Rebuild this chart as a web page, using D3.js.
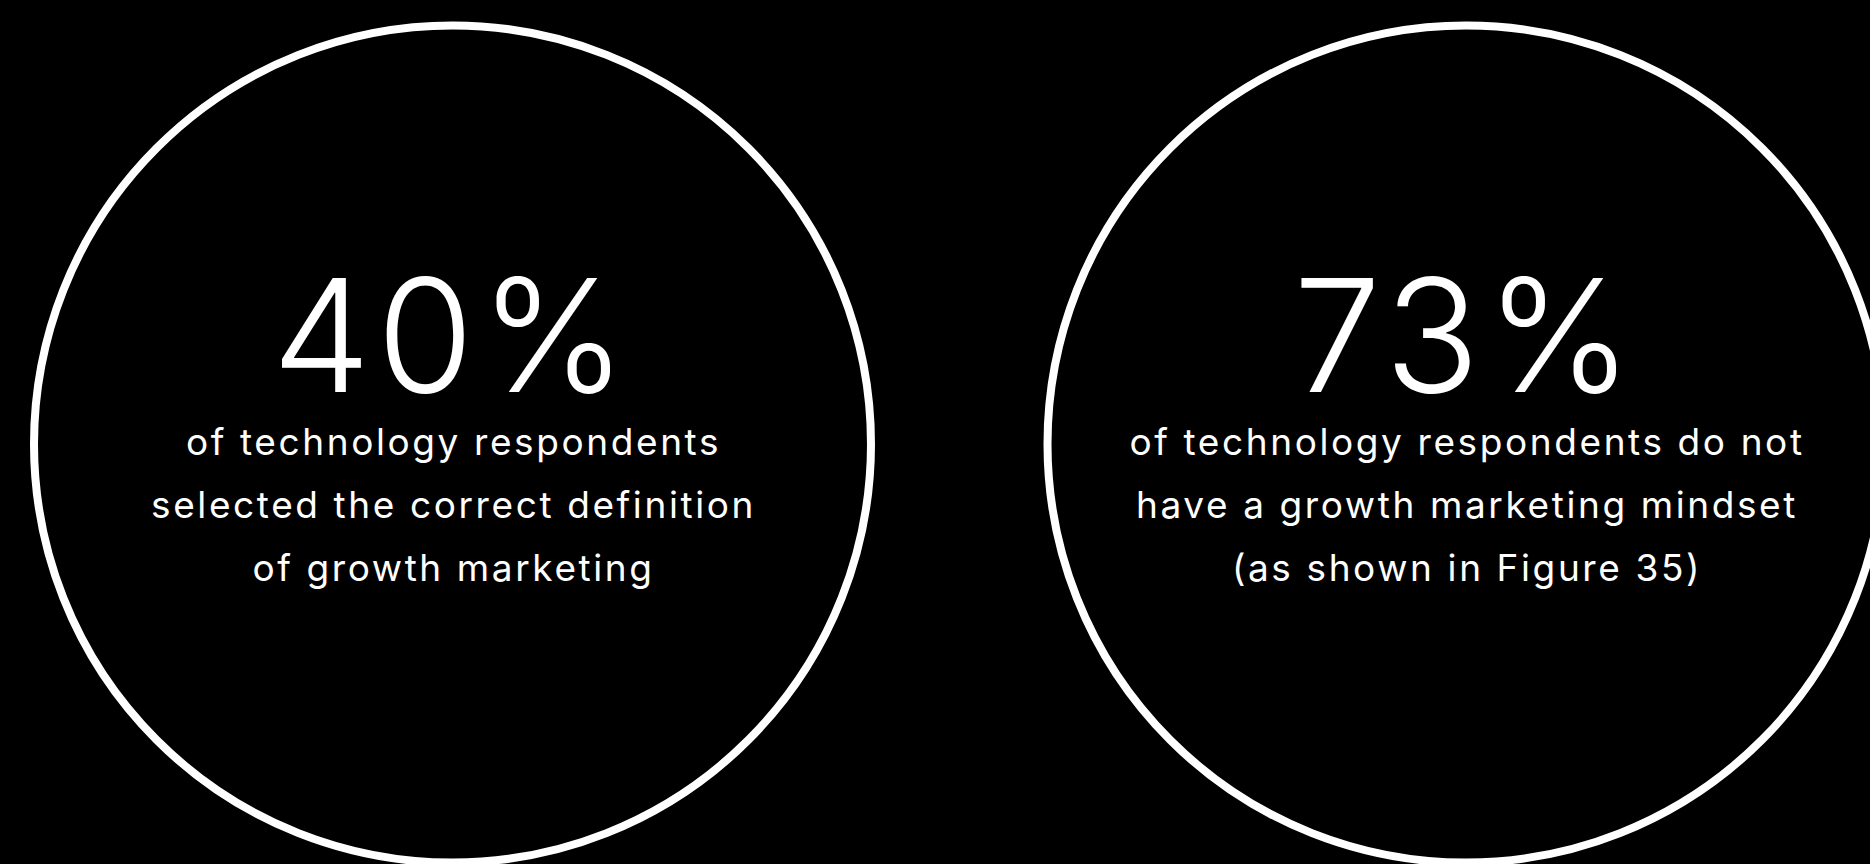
<!DOCTYPE html>
<html>
<head>
<meta charset="utf-8">
<script src="https://cdn.jsdelivr.net/npm/d3@7"></script>
<style>
  html, body { margin: 0; padding: 0; background: #000; }
  svg { display: block; }
</style>
</head>
<body>
<svg id="chart" width="1870" height="864"></svg>
<script>
// ---- data ----
const categories = ["definition", "mindset"];
const values = [40, 73];
const captions = [
  ["of technology respondents", "selected the correct definition", "of growth marketing"],
  ["of technology respondents do not", "have a growth marketing mindset", "(as shown in Figure 35)"]
];

// ---- layout ----
const W = 1870, H = 864;
const svg = d3.select("#chart");
svg.append("rect").attr("width", W).attr("height", H).attr("fill", "#000");

const x = d3.scalePoint().domain(categories).range([452.5, 1466]);
const cy = 444, r = 418.5;
const font = "Inter, 'Noto Sans', sans-serif";

const g = svg.selectAll("g.stat")
  .data(categories.map((c, i) => ({ c, v: values[i], lines: captions[i] })))
  .join("g")
  .attr("class", "stat")
  .attr("transform", d => `translate(${x(d.c)},0)`);

g.append("circle")
  .attr("cx", 0).attr("cy", cy).attr("r", r)
  .attr("fill", "none").attr("stroke", "#fff").attr("stroke-width", 8);

g.append("text")
  .attr("x", 0).attr("y", 392)
  .attr("text-anchor", "middle")
  .attr("fill", "#fff")
  .attr("font-family", font)
  .attr("font-weight", 300)
  .attr("font-size", 157)
  .attr("letter-spacing", "6px")
  .text(d => d3.format("d")(d.v) + "%");

const lineY = d3.scaleLinear().domain([0, 1]).range([455, 518]);
g.each(function(d) {
  d3.select(this).selectAll("text.cap")
    .data(d.lines)
    .join("text")
    .attr("class", "cap")
    .attr("x", 1)
    .attr("y", (t, i) => lineY(i))
    .attr("text-anchor", "middle")
    .attr("fill", "#fff")
    .attr("font-family", font)
    .attr("font-weight", 400)
    .attr("font-size", 37)
    .attr("letter-spacing", "2.6px")
    .text(t => t);
});
</script>
</body>
</html>
